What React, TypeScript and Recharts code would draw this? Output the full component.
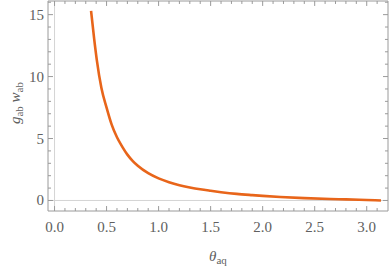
import React from 'react';
import { LineChart, Line, XAxis, YAxis, ReferenceLine, Label } from 'recharts';

const THETA = [0.351, 0.38, 0.406, 0.45, 0.5, 0.55, 0.6, 0.65, 0.7, 0.75, 0.8, 0.9, 1.0, 1.1, 1.2, 1.3, 1.4, 1.5, 1.6, 1.75, 1.9, 2.0, 2.17, 2.4, 2.65, 2.8, 3.0, 3.137];
const GW = [15.3, 13.1, 11.35, 9.1, 7.5, 6.1, 5.1, 4.35, 3.7, 3.2, 2.8, 2.2, 1.78, 1.47, 1.23, 1.05, 0.9, 0.78, 0.67, 0.53, 0.43, 0.37, 0.28, 0.19, 0.12, 0.09, 0.04, 0.0];

const X_TICKS = [0, 0.5, 1, 1.5, 2, 2.5, 3];
const X_MINOR = [0.1, 0.2, 0.3, 0.4, 0.6, 0.7, 0.8, 0.9, 1.1, 1.2, 1.3, 1.4, 1.6, 1.7, 1.8, 1.9, 2.1, 2.2, 2.3, 2.4, 2.6, 2.7, 2.8, 2.9, 3.1];
const Y_TICKS = [0, 5, 10, 15];
const Y_MINOR = [1, 2, 3, 4, 6, 7, 8, 9, 11, 12, 13, 14, 16];

const X_DOMAIN: [number, number] = [-0.0628, 3.2044];
const Y_DOMAIN: [number, number] = [-0.85, 16.1];

const data = THETA.map((x, i) => ({ x, y: GW[i] }));

const FRAME = '#9a9a9a';
const FONT = 'Liberation Serif';
const TEXT = '#606060';

// tick lengths in data units (about 5px major, 3px minor)
const XT_MAJ = 0.4, XT_MIN = 0.24;
const YT_MAJ = 0.048, YT_MIN = 0.029;

function frameTicks() {
  const [x0, x1] = X_DOMAIN;
  const [y0, y1] = Y_DOMAIN;
  const out: React.ReactNode[] = [];
  const add = (vals: number[], len: number, kind: string) => {
    vals.forEach((v) => {
      out.push(<ReferenceLine key={`b${kind}${v}`} segment={[{ x: v, y: y0 }, { x: v, y: y0 + len }]} stroke={FRAME} ifOverflow="visible" />);
      out.push(<ReferenceLine key={`t${kind}${v}`} segment={[{ x: v, y: y1 }, { x: v, y: y1 - len }]} stroke={FRAME} ifOverflow="visible" />);
    });
  };
  const addY = (vals: number[], len: number, kind: string) => {
    vals.forEach((v) => {
      out.push(<ReferenceLine key={`l${kind}${v}`} segment={[{ x: x0, y: v }, { x: x0 + len, y: v }]} stroke={FRAME} ifOverflow="visible" />);
      out.push(<ReferenceLine key={`r${kind}${v}`} segment={[{ x: x1, y: v }, { x: x1 - len, y: v }]} stroke={FRAME} ifOverflow="visible" />);
    });
  };
  add(X_TICKS, XT_MAJ, 'M');
  add(X_MINOR, XT_MIN, 'm');
  addY(Y_TICKS, YT_MAJ, 'M');
  addY(Y_MINOR, YT_MIN, 'm');
  return out;
}

const XTick = ({ x, y, payload }: any) => (
  <text className="ser" x={x} y={y + 15} textAnchor="middle" fill={TEXT} fontSize={15} fontFamily={FONT}>
    {payload.value.toFixed(1)}
  </text>
);

const YTick = ({ x, y, payload }: any) => (
  <text className="ser" x={x} y={y + 5} textAnchor="end" fill={TEXT} fontSize={15} fontFamily={FONT}>
    {payload.value}
  </text>
);

export default function App() {
  return (
    <div style={{ position: 'absolute', left: 0, top: 0 }}>
      <style>{`.ser, .ser tspan { font-family: 'Liberation Serif', serif !important; }`}</style>
      <LineChart width={390} height={267} data={data} margin={{ top: 1, right: 2, bottom: 26, left: 0 }}>
        <ReferenceLine x={0} stroke="#d4d4d4" ifOverflow="visible" />
        <ReferenceLine y={0} stroke="#d4d4d4" ifOverflow="visible" />
        <XAxis dataKey="x" type="number" domain={X_DOMAIN} ticks={X_TICKS} allowDataOverflow height={30}
          tickLine={false} tickSize={0} tickMargin={6}
          axisLine={{ stroke: FRAME }} tick={<XTick />}>
          <Label content={() => (
            <text className="ser" x={218} y={261} textAnchor="middle" fill={TEXT} fontFamily={FONT} fontSize={15}>
              <tspan fontStyle="italic">θ</tspan>
              <tspan fontSize={11} dy={3}>aq</tspan>
            </text>
          )} />
        </XAxis>
        <YAxis type="number" domain={Y_DOMAIN} ticks={Y_TICKS} allowDataOverflow width={48}
          tickLine={false} tickSize={0} tickMargin={4}
          axisLine={{ stroke: FRAME }} tick={<YTick />}>
          <Label content={() => (
            <text className="ser" x={20} y={103} transform="rotate(-90, 20, 103)" textAnchor="middle" fill={TEXT} fontFamily={FONT} fontSize={15}>
              <tspan fontStyle="italic">g</tspan>
              <tspan fontSize={11} dy={3}>ab</tspan>
              <tspan dy={-3}> </tspan>
              <tspan fontStyle="italic">w</tspan>
              <tspan fontSize={11} dy={3}>ab</tspan>
            </text>
          )} />
        </YAxis>
        <ReferenceLine x={X_DOMAIN[1]} stroke={FRAME} ifOverflow="visible" />
        <ReferenceLine y={Y_DOMAIN[1]} stroke={FRAME} ifOverflow="visible" />
        {frameTicks()}
        <Line type="monotone" dataKey="y" stroke="#E8651A" strokeWidth={2.6} dot={false} isAnimationActive={false} />
      </LineChart>
    </div>
  );
}
